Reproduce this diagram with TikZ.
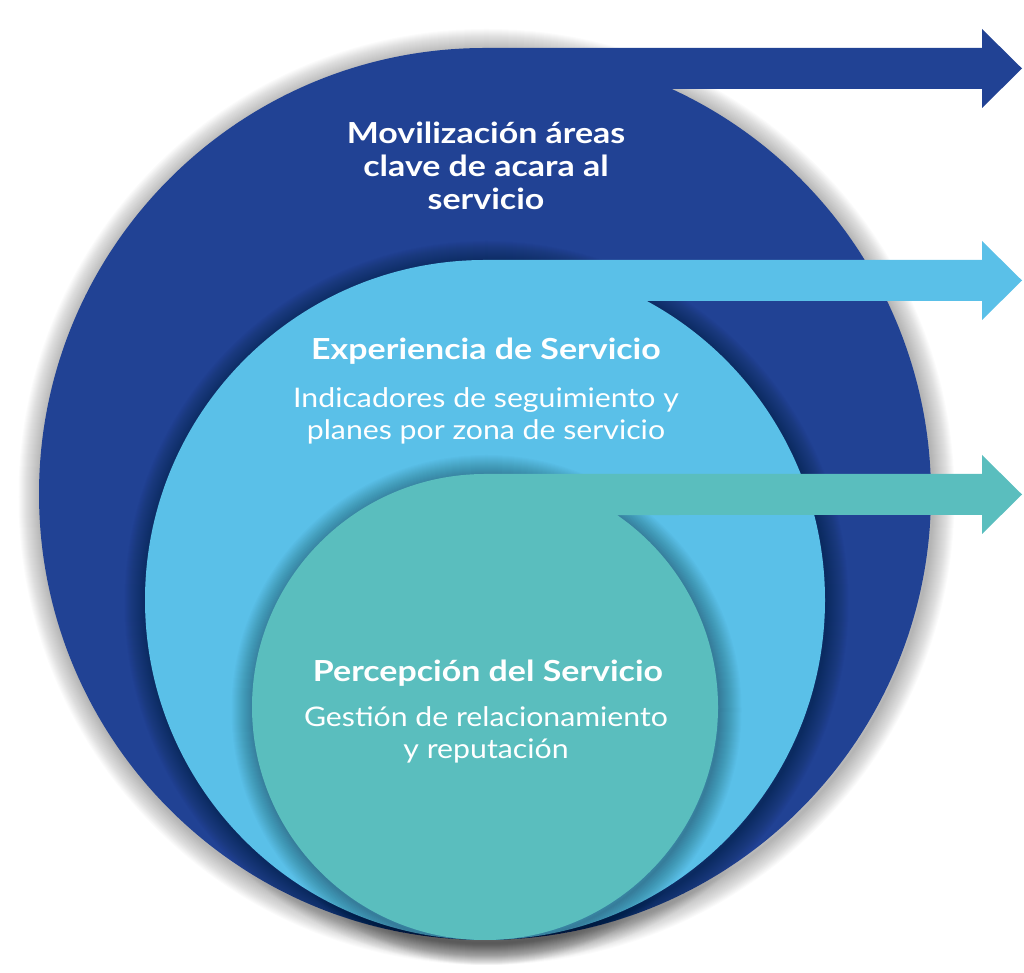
\documentclass[tikz,border=0pt]{standalone}
\usepackage{fontspec}
\setmainfont{Lato}
\newfontfamily\ttlfont{Lato}[FakeStretch=1.17]
\newfontfamily\subfont{Lato}[FakeStretch=1.12]
\definecolor{darkblue}{RGB}{33,66,148}
\definecolor{lightblue}{RGB}{90,192,232}
\definecolor{tealc}{RGB}{90,190,190}
% outline of one circle with its arrow: #1 cx, #2 cy, #3 r
\newcommand{\bandpath}[3]{(#1,#2+#3) arc[start angle=90, end angle={360+asin(1-41/#3)}, radius=#3]
    -- (982,#2+#3-41) -- (982,#2+#3-60) -- (1022,#2+#3-20.5) -- (982,#2+#3+19) -- (982,#2+#3) -- cycle}
\newcommand{\bandshape}[4]{% #1 colour, #2 cx, #3 cy, #4 r
  \begin{scope}[xshift=1.5pt, yshift=-3pt]
    \foreach \k in {1,...,22} {
      \draw[softshadow, line width=2*\k pt] (#2,#3) circle[radius=#4];
    }
  \end{scope}
  \fill[blob=#1] \bandpath{#2}{#3}{#4};}
\begin{document}
\begin{tikzpicture}[x=1pt,y=1pt,
  softshadow/.style={draw=black, opacity=0.016},
  blob/.style={fill=#1, draw=none},
  ttl/.style={text=white, font=\ttlfont\bfseries\fontsize{29}{33}\selectfont, anchor=base, inner sep=0pt},
  sub/.style={text=white, font=\subfont\fontsize{27}{32}\selectfont, anchor=base, inner sep=0pt}]
\useasboundingbox (0,0) rectangle (1024,973);
\bandshape{darkblue}{485}{479}{446}
\bandshape{lightblue}{485}{373}{340}
\bandshape{tealc}{485}{266}{233}
% outer texts
\node[ttl] (m1) at (486,829) {Movilización áreas};
\node[ttl] (m2) at (486,796) {clave de acara al};
\node[ttl] (m3) at (486,763) {servicio};
% middle texts
\node[ttl] (e1) at (486,613) {Experiencia de Servicio};
\node[sub] (e2) at (486,565) {Indicadores de seguimiento y};
\node[sub] (e3) at (486,533) {planes por zona de servicio};
% inner texts
\node[ttl] (p1) at (488,291) {Percepción del Servicio};
\node[sub] (p2) at (486,246) {Gestión de relacionamiento};
\node[sub] (p3) at (486,214) {y reputación};
\end{tikzpicture}
\end{document}
